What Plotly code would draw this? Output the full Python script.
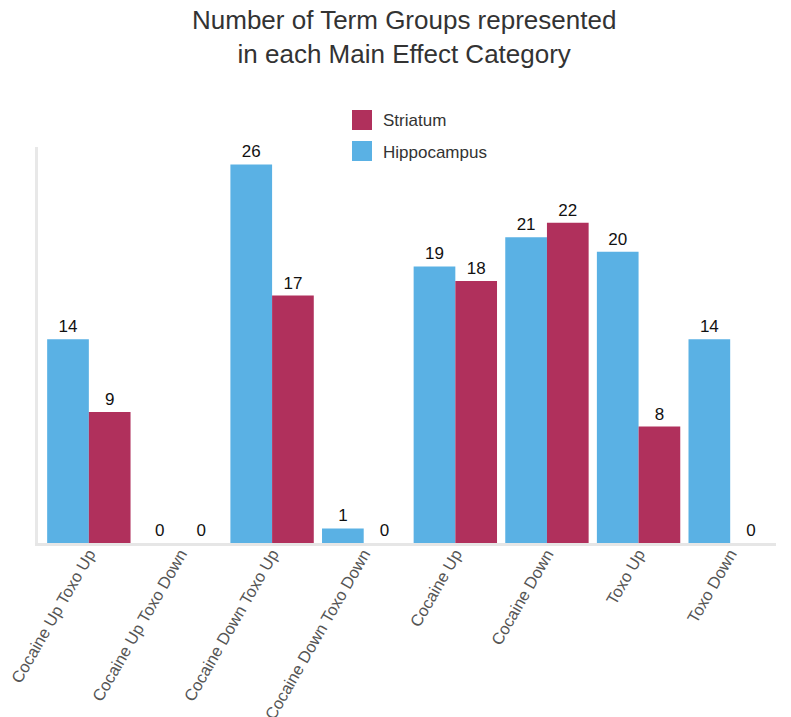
import plotly.graph_objects as go

categories = ["Cocaine Up Toxo Up", "Cocaine Up Toxo Down", "Cocaine Down Toxo Up",
              "Cocaine Down Toxo Down", "Cocaine Up", "Cocaine Down", "Toxo Up", "Toxo Down"]
hippocampus = [14, 0, 26, 1, 19, 21, 20, 14]
striatum = [9, 0, 17, 0, 18, 22, 8, 0]

BLUE = "#5ab1e4"
RED = "#b0305c"
FONT = "Liberation Sans, Arial, sans-serif"

W, H = 791, 717
ML, MR, MT, MB = 38, 15, 147, 174
PW, PH = W - ML - MR, H - MT - MB


def px_x(px):
    return (px - ML) / PW


def px_y(py):
    return (H - MB - py) / PH


fig = go.Figure()
fig.add_trace(go.Bar(
    x=categories, y=hippocampus, name="Hippocampus", marker_color=BLUE,
    marker_line_width=0, text=hippocampus, textposition="outside",
    textfont=dict(size=17, color="#111"), cliponaxis=False,
))
fig.add_trace(go.Bar(
    x=categories, y=striatum, name="Striatum", marker_color=RED,
    marker_line_width=0, text=striatum, textposition="outside",
    textfont=dict(size=17, color="#111"), cliponaxis=False,
))

# legend drawn as swatches + labels
legend_items = [("Striatum", RED, 110), ("Hippocampus", BLUE, 141)]
shapes = []
annotations = []
for label, color, top in legend_items:
    shapes.append(dict(type="rect", xref="paper", yref="paper",
                       x0=px_x(352), x1=px_x(372), y0=px_y(top + 20), y1=px_y(top),
                       fillcolor=color, line=dict(width=0)))
    annotations.append(dict(text=label, xref="paper", yref="paper",
                            x=px_x(381), y=px_y(top + 11), xanchor="left", yanchor="middle",
                            showarrow=False, font=dict(size=17, color="#333", family=FONT)))

annotations.append(dict(
    text="Number of Term Groups represented<br>in each Main Effect Category",
    xref="paper", yref="paper", x=px_x(404), y=px_y(37), xanchor="center", yanchor="middle",
    showarrow=False, font=dict(size=26, color="#333", family=FONT),
))

fig.update_layout(
    width=W, height=H,
    margin=dict(l=ML, r=MR, t=MT, b=MB, autoexpand=False),
    paper_bgcolor="white", plot_bgcolor="white",
    font=dict(family=FONT, color="#333"),
    barmode="group", bargap=0.09, bargroupgap=0,
    showlegend=False,
    shapes=shapes, annotations=annotations,
)
fig.update_xaxes(
    type="category", range=[-0.555, 7.5], tickangle=-60, automargin=False,
    tickfont=dict(size=16.5, color="#555"), showline=True, linecolor="#e6e6e6",
    linewidth=3, ticks="", showgrid=False, zeroline=False, ticklabelstandoff=-8,
)
fig.update_yaxes(
    range=[0, 27.2], showline=True, linecolor="#e8e8e8", linewidth=3, automargin=False,
    showticklabels=False, ticks="", showgrid=False, zeroline=False,
)

fig.write_html("out.html")
